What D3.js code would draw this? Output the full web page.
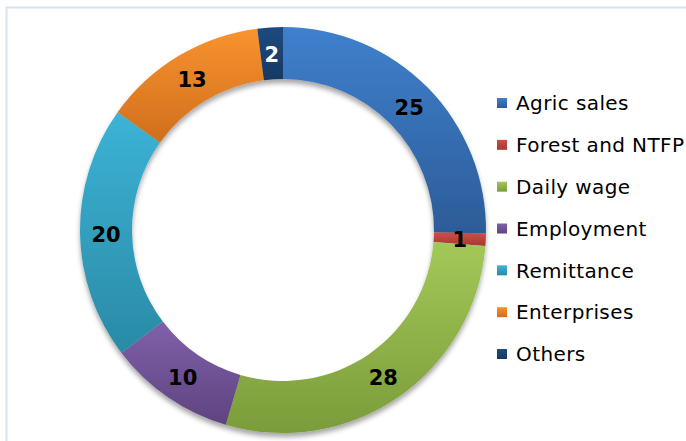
<!DOCTYPE html>
<html><head><meta charset="utf-8">
<script src="https://cdn.jsdelivr.net/npm/d3@7"></script>
<style>html,body{margin:0;padding:0;background:#fff;}svg{display:block;}</style>
</head><body>
<script>
const categories = ["Agric sales","Forest and NTFP","Daily wage","Employment","Remittance","Enterprises","Others"];
const values = [25, 1, 28, 10, 20, 13, 2];
const colorsTop = ["#3f80cd","#d04c48","#a4c858","#8060aa","#3cb3d6","#f9932f","#1f4a80"];
const colorsBottom = ["#2c5c98","#a53936","#7a9c3a","#5e4480","#2a8aa5","#d06e1c","#173962"];
const labelColors = ["#000","#000","#000","#000","#000","#000","#fff"];

const W = 686, H = 441;
const svg = d3.select("body").append("svg").attr("width", W).attr("height", H);
const defs = svg.append("defs");
categories.forEach((c,i)=>{
  const g = defs.append("linearGradient").attr("id","g"+i).attr("x1",0).attr("y1",0).attr("x2",0).attr("y2",1);
  g.append("stop").attr("offset","0%").attr("stop-color",colorsTop[i]);
  g.append("stop").attr("offset","100%").attr("stop-color",colorsBottom[i]);
});
const f = defs.append("filter").attr("id","sh").attr("x","-20%").attr("y","-20%").attr("width","140%").attr("height","140%");
f.append("feDropShadow").attr("dx",0).attr("dy",4).attr("stdDeviation",2.5).attr("flood-color","#000").attr("flood-opacity",0.35);

// frame
svg.append("path").attr("d","M6.5,"+(H+5)+" L6.5,7.5 L"+(W+5)+",7.5")
  .attr("fill","none").attr("stroke","#d5e3f3").attr("stroke-width",2);

const cx = 283, cy = 230, rOut = 203, rIn = 151;
const pie = d3.pie().sort(null).value(d=>d)(values);
const arc = d3.arc().innerRadius(rIn).outerRadius(rOut);
const gp = svg.append("g").attr("transform",`translate(${cx},${cy})`);
gp.append("g").attr("filter","url(#sh)").selectAll("path").data(pie).join("path")
  .attr("d",arc).attr("fill",(d,i)=>`url(#g${i})`);
const labArc = d3.arc().innerRadius(rIn).outerRadius(rOut);
gp.selectAll("text").data(pie).join("text")
  .attr("transform",d=>`translate(${labArc.centroid(d)})`)
  .attr("text-anchor","middle").attr("dy","0.42em")
  .attr("font-family","DejaVu Sans, Verdana, sans-serif").attr("font-weight","bold").attr("font-size",21)
  .attr("fill",(d,i)=>labelColors[i])
  .text(d=>d.data);

// legend
const y = d3.scalePoint().domain(categories).range([103,354]);
const lg = svg.append("g");
categories.forEach((c,i)=>{
  lg.append("rect").attr("x",497).attr("y",y(c)-5).attr("width",10).attr("height",10).attr("fill",`url(#g${i})`);
  lg.append("text").attr("x",516).attr("y",y(c)).attr("dy","0.36em")
    .attr("font-family","DejaVu Sans, Verdana, sans-serif").attr("font-size",20).attr("letter-spacing",0.4)
    .attr("fill","#000").text(c);
});
</script>
</body></html>
